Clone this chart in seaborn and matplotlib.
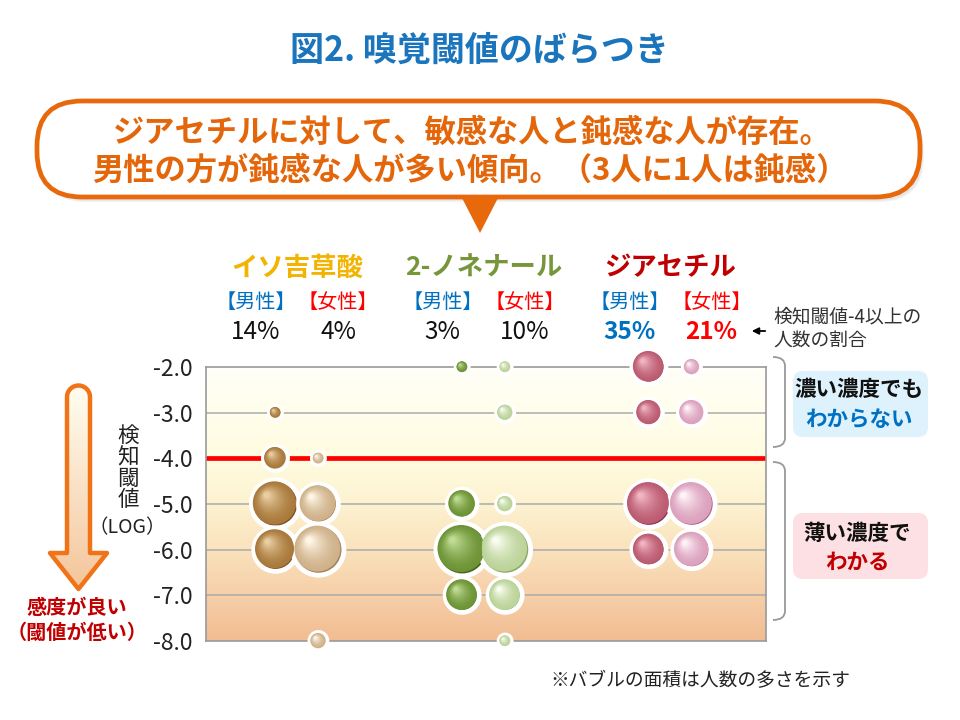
import numpy as np
import pandas as pd
import matplotlib
matplotlib.use("Agg")
import matplotlib.pyplot as plt
import matplotlib.colors as mcolors
import matplotlib.transforms as mtransforms
from matplotlib.patches import FancyBboxPatch, Polygon, PathPatch
from matplotlib.path import Path
import seaborn as sns

sns.set_style("white")
plt.rcParams['font.family'] = ['Noto Sans CJK JP', 'DejaVu Sans']

# ---- data ----
compounds = ["イソ吉草酸", "2-ノネナール", "ジアセチル"]
compound_colors = ["#F2B400", "#77963A", "#C00000"]
sexes = ["男性", "女性"]
levels = [-2.0, -3.0, -4.0, -5.0, -6.0, -7.0, -8.0]
tick_labels = ["-2.0", "-3.0", "-4.0", "-5.0", "-6.0", "-7.0", "-8.0"]

# number of people at each threshold level (same order as levels)
iso_male = [0, 1, 4, 16, 13, 0, 0]
iso_female = [0, 0, 1, 11, 18, 0, 2]
non_male = [1, 0, 0, 6, 19, 8, 0]
non_female = [1, 2, 0, 2, 18, 8, 1]
dia_male = [8, 5, 0, 15, 8, 0, 0]
dia_female = [2, 5, 0, 15, 10, 0, 0]

# share of people with threshold -4 or higher (%)
share_pct = [14, 4, 3, 10, 35, 21]

# sphere colours (dark rim, body, highlight) per series
dark_cols = ["#7A4E1E", "#A48258", "#46661C", "#8AA866", "#86304A", "#AE6A8E"]
mid_cols = ["#A97A3C", "#CFB28A", "#6E9436", "#BCD39A", "#BC5C72", "#DCA2BE"]
light_cols = ["#E9CDA0", "#FFF6E6", "#BEDC94", "#F8FDEE", "#F0B4C2", "#FFF2F8"]

series_counts = [iso_male, iso_female, non_male, non_female, dia_male, dia_female]

rows = []
for i, counts in enumerate(series_counts):
    g, s = divmod(i, 2)
    for lv, c in zip(levels, counts):
        if c > 0:
            rows.append({"series": i, "compound": compounds[g], "sex": sexes[s],
                         "x": g + (-0.115 if s == 0 else 0.115), "level": lv, "count": c})
df = pd.DataFrame(rows)

AREA = 75.0  # points^2 per person

fig = plt.figure(figsize=(9.6, 7.2), dpi=100)
bg = fig.add_axes([0, 0, 1, 1], zorder=0)
bg.set_xlim(0, 960)
bg.set_ylim(720, 0)
bg.axis("off")

ax = fig.add_axes([206 / 960, 1 - 641 / 720, 560 / 960, 274 / 720], zorder=1)
xmin, xmax = -0.487, 2.512

# background gradient of the plot
stops = [(-8, "#F2BC92"), (-7, "#F6CFA8"), (-6, "#FAE2BC"), (-5, "#FDF2D0"),
         (-4, "#FFFCE0"), (-3, "#FFFEEC"), (-2, "#FFFFF8")]
yy = np.linspace(-8, -2, 300)
rgb = np.array([mcolors.to_rgb(c) for _, c in stops])
grad = np.stack([np.interp(yy, [s for s, _ in stops], rgb[:, k]) for k in range(3)], axis=1)
ax.imshow(grad[:, None, :], extent=(xmin, xmax, -8, -2), origin="lower",
          aspect="auto", zorder=0)

for lv in levels[1:-1]:
    ax.axhline(lv, color="#AAAAAA", lw=1.1, zorder=1)
ax.axhline(-4, color="#FF0000", lw=3.4, zorder=2)
for sp in ax.spines.values():
    sp.set_color("#999999")
    sp.set_linewidth(1.2)

# base spheres with white halo
cmin, cmax = df["count"].min(), df["count"].max()
sns.scatterplot(data=df, x="x", y="level", hue="series", palette=dark_cols,
                size="count", sizes=(AREA * cmin, AREA * cmax), size_norm=(cmin, cmax),
                edgecolor="white", linewidth=3.5, legend=False, ax=ax,
                clip_on=False, zorder=3)

ax.set_xlim(xmin, xmax)
ax.set_ylim(-8, -2)
ax.set_yticks(levels)
ax.set_yticklabels(tick_labels, fontsize=16.5, color="#222222")
ax.set_xticks([])
ax.tick_params(left=False, bottom=False, pad=6)
ax.set_xlabel("")
ax.set_ylabel("")

# shading layers toward the upper-left highlight
fig.canvas.draw()
p0 = ax.transData.transform((0, 0))
px_x = ax.transData.transform((1, 0))[0] - p0[0]
px_y = ax.transData.transform((0, 1))[1] - p0[1]
r_px = np.sqrt(df["count"].values * AREA) / 2 / 0.72
fracs = np.linspace(0.9, 0.12, 16)
for k, f in enumerate(fracs):
    t = (k / (len(fracs) - 1)) ** 1.6
    cols = []
    for sidx in df["series"]:
        m = np.array(mcolors.to_rgb(mid_cols[sidx]))
        l = np.array(mcolors.to_rgb(light_cols[sidx]))
        cols.append(m * (1 - t) + l * t)
    off = (1 - f) * 0.42 * r_px
    ax.scatter(df["x"] - off / px_x, df["level"] + off / px_y,
               s=df["count"] * AREA * f ** 2, c=cols, linewidths=0,
               clip_on=False, zorder=4 + k)

# texts above the plot, placed at compound positions
trans = mtransforms.blended_transform_factory(ax.transData, bg.transData)
for g, name in enumerate(compounds):
    ax.text(g, 268, name, transform=trans, ha="center", va="center",
            fontsize=19, fontweight="bold", color=compound_colors[g])
    for s in range(2):
        xo = g + (-0.22 if s == 0 else 0.22)
        col = "#0070C0" if s == 0 else "#FF0000"
        ax.text(xo, 302, "【" + sexes[s] + "】", transform=trans, ha="center",
                va="center", fontsize=14.5, color=col)
        pct = share_pct[g * 2 + s]
        if g == 2:
            ax.text(xo, 332, f"{pct}%", transform=trans, ha="center", va="center",
                    fontsize=17.5, fontweight="bold", color=col)
        else:
            ax.text(xo, 332, f"{pct}%", transform=trans, ha="center", va="center",
                    fontsize=17.5, color="#111111")

# title
bg.text(479, 50, "図2. 嗅覚閾値のばらつき", ha="center", va="center",
        fontsize=24.5, fontweight="bold", color="#1B75BC")

# speech bubble
orange = "#E8690C"
for k, a in enumerate([0.06, 0.08, 0.1]):
    bg.add_patch(FancyBboxPatch((37 + 2 + k, 101 + 3 + k), 883, 96,
                                boxstyle="round,pad=0,rounding_size=45",
                                fc="#888888", ec="none", alpha=a))
bg.add_patch(FancyBboxPatch((37, 101), 883, 96, boxstyle="round,pad=0,rounding_size=45",
                            fc="white", ec=orange, lw=3.4))
bg.add_patch(Polygon([(461, 196), (499, 196), (480, 233)], closed=True,
                     fc=orange, ec="none"))
bg.text(472, 133, "ジアセチルに対して、敏感な人と鈍感な人が存在。", ha="center",
        va="center", fontsize=22.5, fontweight="bold", color="#E4660A")
bg.text(470, 171, "男性の方が鈍感な人が多い傾向。（3人に1人は鈍感）", ha="center",
        va="center", fontsize=22.5, fontweight="bold", color="#E4660A")

# note arrow at right
bg.annotate("", xy=(749, 331), xytext=(768, 331),
            arrowprops=dict(arrowstyle="-|>", color="black", lw=1.3, mutation_scale=10))
bg.text(773, 329, "検知閾値-4以上の\n人数の割合", ha="left", va="center",
        fontsize=13.5, color="#333333", linespacing=1.2)

# brackets
def bracket(y0, y1):
    verts = [(773, y0), (785, y0), (785, y0 + 9), (785, y1 - 9), (785, y1), (773, y1)]
    codes = [Path.MOVETO, Path.CURVE3, Path.CURVE3, Path.LINETO, Path.CURVE3, Path.CURVE3]
    bg.add_patch(PathPatch(Path(verts, codes), fc="none", ec="#999999", lw=1.3))

bracket(357, 447)
bracket(462, 620)

bg.add_patch(FancyBboxPatch((793, 371), 135, 66, boxstyle="round,pad=0,rounding_size=10",
                            fc="#DDF2FC", ec="none"))
bg.text(859, 390, "濃い濃度でも", ha="center", va="center", fontsize=15.5,
        fontweight="bold", color="#111111")
bg.text(859, 419, "わからない", ha="center", va="center", fontsize=15.5,
        fontweight="bold", color="#0070C0")
bg.add_patch(FancyBboxPatch((793, 513), 135, 66, boxstyle="round,pad=0,rounding_size=10",
                            fc="#FDE0E3", ec="none"))
bg.text(857, 533, "薄い濃度で", ha="center", va="center", fontsize=15.5,
        fontweight="bold", color="#111111")
bg.text(857, 562, "わかる", ha="center", va="center", fontsize=15.5,
        fontweight="bold", color="#C00000")

# left big arrow with gradient fill
theta = np.linspace(np.pi, 0, 20)
top = [(78.5 + 11.5 * np.cos(a), 397 - 11.5 * np.sin(a)) for a in theta]
arrow_pts = top + [(90, 553), (107, 553), (78.5, 589), (50, 553), (67, 553)]
arrow = Polygon(arrow_pts, closed=True, fc="none", ec="#F07318", lw=3.2, joinstyle="round")
bg.add_patch(arrow)
ag = np.linspace(0, 1, 200)
c_top = np.array(mcolors.to_rgb("#FFFFF2"))
c_bot = np.array(mcolors.to_rgb("#F4C49A"))
agrad = c_top[None, :] * (1 - ag[:, None]) + c_bot[None, :] * ag[:, None]
im = bg.imshow(agrad[:, None, :], extent=(48, 110, 592, 383), origin="upper",
               aspect="auto", zorder=1)
im.set_clip_path(arrow)
arrow.set_zorder(2)
bg.set_xlim(0, 960)
bg.set_ylim(720, 0)

bg.text(77, 607, "感度が良い", ha="center", va="center", fontsize=14.5,
        fontweight="bold", color="#C00000")
bg.text(77, 632, "（閾値が低い）", ha="center", va="center", fontsize=14.5,
        fontweight="bold", color="#C00000")

# axis label
bg.text(128, 468, "検\n知\n閾\n値", ha="center", va="center", fontsize=15.5,
        color="#222222", linespacing=0.98)
bg.text(127, 528, "（LOG）", ha="center", va="center", fontsize=14, color="#222222")

bg.text(700, 681, "※バブルの面積は人数の多さを示す", ha="center", va="center",
        fontsize=13.5, color="#222222")

plt.savefig("out.png", dpi=100)
